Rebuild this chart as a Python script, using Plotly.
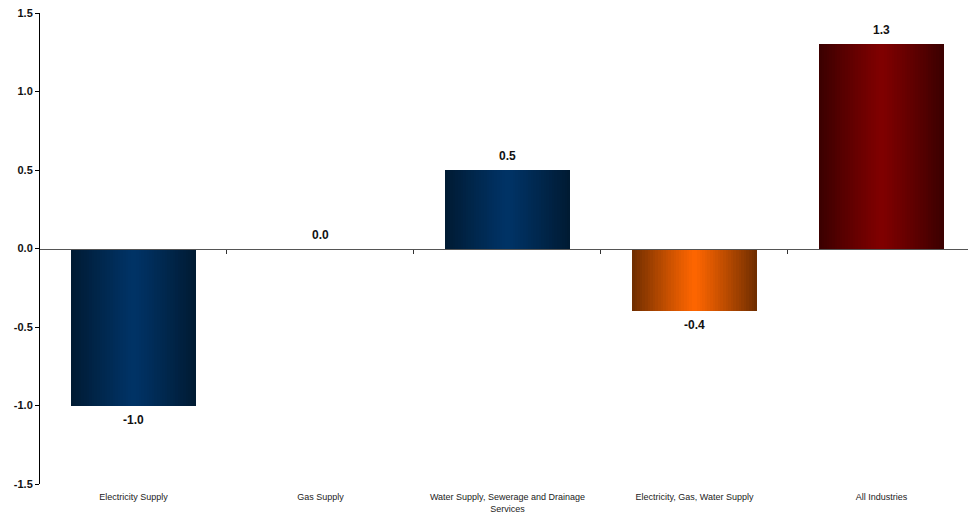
import plotly.graph_objects as go

categories = ["Electricity Supply", "Gas Supply", "Water Supply, Sewerage and Drainage<br>Services",
              "Electricity, Gas, Water Supply", "All Industries"]
values = [-1.0, 0.0, 0.5, -0.4, 1.3]
center_colors = [(0, 51, 102), (0, 51, 102), (0, 51, 102), (255, 102, 0), (128, 0, 0)]
edge_colors = [(0, 26, 50), (0, 26, 50), (0, 26, 50), (110, 45, 0), (58, 0, 0)]
y_ticks = [-1.5, -1.0, -0.5, 0.0, 0.5, 1.0, 1.5]

BAR_W = 0.668
N = 48
X_RANGE = [-0.5, 4.463]

fig = go.Figure()
for i in range(N):
    t = (i + 0.5) / N
    d = abs(t - 0.5) * 2  # 0 center, 1 edge
    f = d ** 1.1
    cols = []
    for c, e in zip(center_colors, edge_colors):
        r = [round(c[k] + (e[k] - c[k]) * f) for k in range(3)]
        cols.append(f"rgb({r[0]},{r[1]},{r[2]})")
    fig.add_trace(go.Bar(
        x=categories, y=values, width=BAR_W / N * 1.02,
        offset=-BAR_W / 2 + i * BAR_W / N,
        marker=dict(color=cols, line=dict(width=0)),
        hoverinfo="skip", showlegend=False,
    ))

for cat, v in zip(categories, values):
    fig.add_annotation(
        x=cat, y=v, text=f"{v:.1f}", showarrow=False,
        yshift=-14 if v < 0 else 14,
        font=dict(family="Liberation Sans", size=12, color="#111", weight="bold"),
    )

# invisible trace for the zero-line axis
fig.add_trace(go.Scatter(x=[0, 4], y=[0, 0], xaxis="x2", mode="lines",
                         line=dict(width=0), opacity=0, showlegend=False, hoverinfo="skip"))

fig.update_layout(
    width=968, height=516,
    margin=dict(l=40, r=0, t=13, b=32),
    plot_bgcolor="white", paper_bgcolor="white",
    barmode="overlay", bargap=0,
    xaxis=dict(
        type="category", categoryorder="array", categoryarray=categories,
        range=X_RANGE, showline=False, ticks="", showgrid=False, zeroline=False,
        tickfont=dict(family="Liberation Sans", size=9, color="#222"),
        ticklabelstandoff=6,
    ),
    xaxis2=dict(
        overlaying="x", anchor="free", position=0.5, range=X_RANGE,
        showline=True, linecolor="#555", linewidth=1,
        tickmode="array", tickvals=[0.5, 1.5, 2.5, 3.5], ticks="outside",
        ticklen=4, tickcolor="#333", showticklabels=False, showgrid=False, zeroline=False,
    ),
    yaxis=dict(
        range=[-1.5, 1.5], tickmode="array", tickvals=y_ticks,
        ticktext=[f"{v:.1f}" for v in y_ticks],
        showline=True, linecolor="black", linewidth=1, ticks="outside", ticklen=4,
        tickcolor="black", showgrid=False, zeroline=False,
        tickfont=dict(family="Liberation Sans", size=11, color="#111", weight="bold"),
    ),
)

fig.write_html("out.html")
